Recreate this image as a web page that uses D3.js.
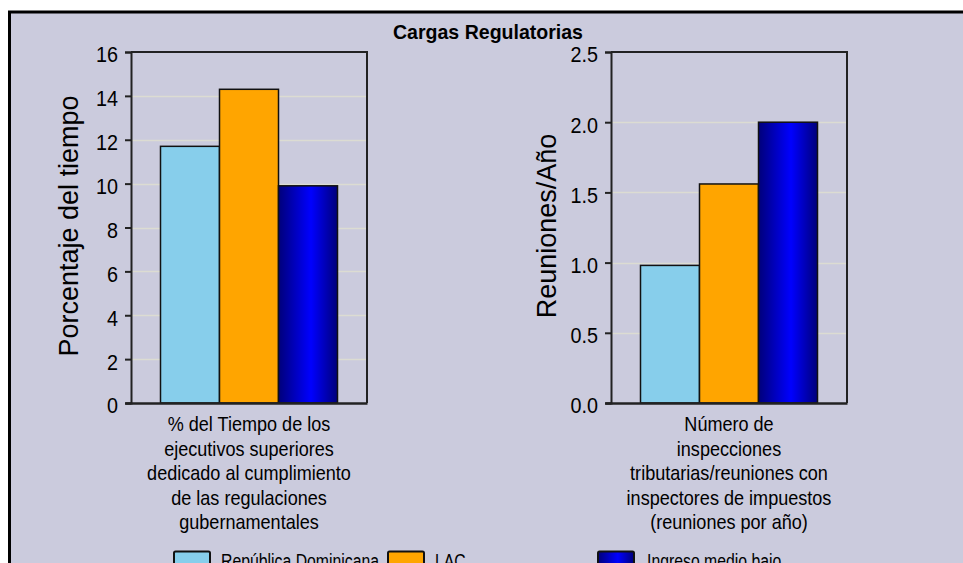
<!DOCTYPE html>
<html><head><meta charset="utf-8">
<script src="https://cdn.jsdelivr.net/npm/d3@7"></script>
<style>
html,body{margin:0;padding:0;background:#fff;overflow:hidden;}
svg{display:block;}
</style></head>
<body>
<svg id="chart" width="963" height="563"></svg>
<script>
const title = "Cargas Regulatorias";
const series = ["República Dominicana", "LAC", "Ingreso medio bajo"];
const seriesColors = ["#87CEEB", "#FFA500", "url(#blueGrad)"];
const legendColors = ["#87CEEB", "#FFA500", "url(#blueGradL)"];

const leftValues = [11.7, 14.3, 9.9];
const leftTicks = [0, 2, 4, 6, 8, 10, 12, 14, 16];
const leftTitle = "Porcentaje del tiempo";
const leftCategory = ["% del Tiempo de los", "ejecutivos superiores", "dedicado al cumplimiento", "de las regulaciones", "gubernamentales"];

const rightValues = [0.98, 1.56, 2.0];
const rightTicks = [0.0, 0.5, 1.0, 1.5, 2.0, 2.5];
const rightTitle = "Reuniones/Año";
const rightCategory = ["Número de", "inspecciones", "tributarias/reuniones con", "inspectores de impuestos", "(reuniones por año)"];

const svg = d3.select("#chart");
const BG = "#CBCBDD";
const FONT = "'Liberation Sans', Arial, sans-serif";

// condense text horizontally (emulates a narrow face)
function narrow(sel, k){
  sel.each(function(){
    const w = this.getComputedTextLength();
    d3.select(this).attr("textLength", (w * k).toFixed(1)).attr("lengthAdjust", "spacingAndGlyphs");
  });
}

const defs = svg.append("defs");
function blueGrad(id){
  const g = defs.append("linearGradient").attr("id", id).attr("x1","0").attr("x2","1").attr("y1","0").attr("y2","0");
  g.append("stop").attr("offset","0%").attr("stop-color","#00007A");
  g.append("stop").attr("offset","55%").attr("stop-color","#0000FF");
  g.append("stop").attr("offset","100%").attr("stop-color","#00007A");
}
blueGrad("blueGrad"); blueGrad("blueGradL");

// outer frame
svg.append("rect").attr("x", 9.5).attr("y", 12).attr("width", 1000).attr("height", 600)
  .attr("fill", BG).attr("stroke", "#000").attr("stroke-width", 3);

svg.append("text").attr("x", 488).attr("y", 39).attr("text-anchor","middle")
  .attr("font-family", FONT).attr("font-weight","bold").attr("font-size", 21)
  .attr("fill","#000").text(title).call(narrow, 0.93);

function panel(x0, x1, values, ticks, fmt, yTitle, yTitleX, catLines){
  const top = 52, bottom = 403;
  const y = d3.scaleLinear().domain([ticks[0], ticks[ticks.length-1]]).range([bottom, top]);
  const x = d3.scaleBand().domain(series).range([x0, x1]).paddingInner(0).paddingOuter(0.5);
  const g = svg.append("g");
  // gridlines
  g.selectAll("line.grid").data(ticks.slice(1, -1)).join("line")
    .attr("x1", x0).attr("x2", x1).attr("y1", d => Math.round(y(d)) + 0.5).attr("y2", d => Math.round(y(d)) + 0.5)
    .attr("stroke", "#DCDCD2").attr("stroke-width", 1.5);
  // bars
  g.selectAll("rect.bar").data(values).join("rect")
    .attr("x", (d,i) => x(series[i])).attr("width", x.bandwidth())
    .attr("y", d => y(d)).attr("height", d => y(0) - y(d))
    .attr("fill", (d,i) => seriesColors[i]).attr("stroke", "#111").attr("stroke-width", 1.5);
  // frame top/right
  g.append("path").attr("d", `M${x0},${top}H${x1}V${bottom}`).attr("fill","none")
    .attr("stroke","#222").attr("stroke-width", 2);
  // y axis
  const ax = g.append("g").attr("transform", `translate(${x0},0)`)
    .call(d3.axisLeft(y).tickValues(ticks).tickFormat(fmt).tickSize(6).tickPadding(7));
  ax.select(".domain").attr("stroke","#222").attr("stroke-width", 2);
  ax.selectAll(".tick line").attr("stroke","#222").attr("stroke-width", 2);
  ax.selectAll(".tick text").attr("font-family", FONT).attr("font-size", 22).attr("fill","#000")
    .attr("dy","0.45em").call(narrow, 0.9);
  // x axis baseline
  const bx = g.append("g").attr("transform", `translate(0,${bottom})`)
    .call(d3.axisBottom(d3.scaleLinear().range([x0 - 6, x1])).tickValues([]).tickSizeOuter(0));
  bx.select(".domain").attr("stroke","#222").attr("stroke-width", 2.5);
  // y title
  g.append("text").attr("transform", `translate(${yTitleX},226) rotate(-90)`)
    .attr("text-anchor","middle").attr("dominant-baseline","central")
    .attr("font-family", FONT).attr("font-size", 27).attr("fill","#000")
    .text(yTitle);
  // category label lines
  const cx = (x0 + x1) / 2;
  g.selectAll("text.cat").data(catLines).join("text")
    .attr("x", cx).attr("y", (d,i) => 431 + i * 24.5).attr("text-anchor","middle")
    .attr("font-family", FONT).attr("font-size", 21).attr("fill","#000")
    .text(d => d).call(narrow, 0.86);
}

panel(131, 367, leftValues, leftTicks, d3.format("d"), leftTitle, 69, leftCategory);
panel(611, 847, rightValues, rightTicks, d3.format(".1f"), rightTitle, 547, rightCategory);

// legend (cut by the bottom edge, as in the source image)
const legendX = [174, 388, 598];
const lg = svg.append("g");
series.forEach((s, i) => {
  lg.append("rect").attr("x", legendX[i]).attr("y", 551.5).attr("width", 36).attr("height", 14)
    .attr("fill", legendColors[i]).attr("stroke","#111").attr("stroke-width", 2).attr("rx", 1.5);
  lg.append("text").attr("x", legendX[i] + (i === 2 ? 49 : 47)).attr("y", 568)
    .attr("font-family", FONT).attr("font-size", 20).attr("fill","#000").text(s).call(narrow, 0.79);
});
</script>
</body></html>
